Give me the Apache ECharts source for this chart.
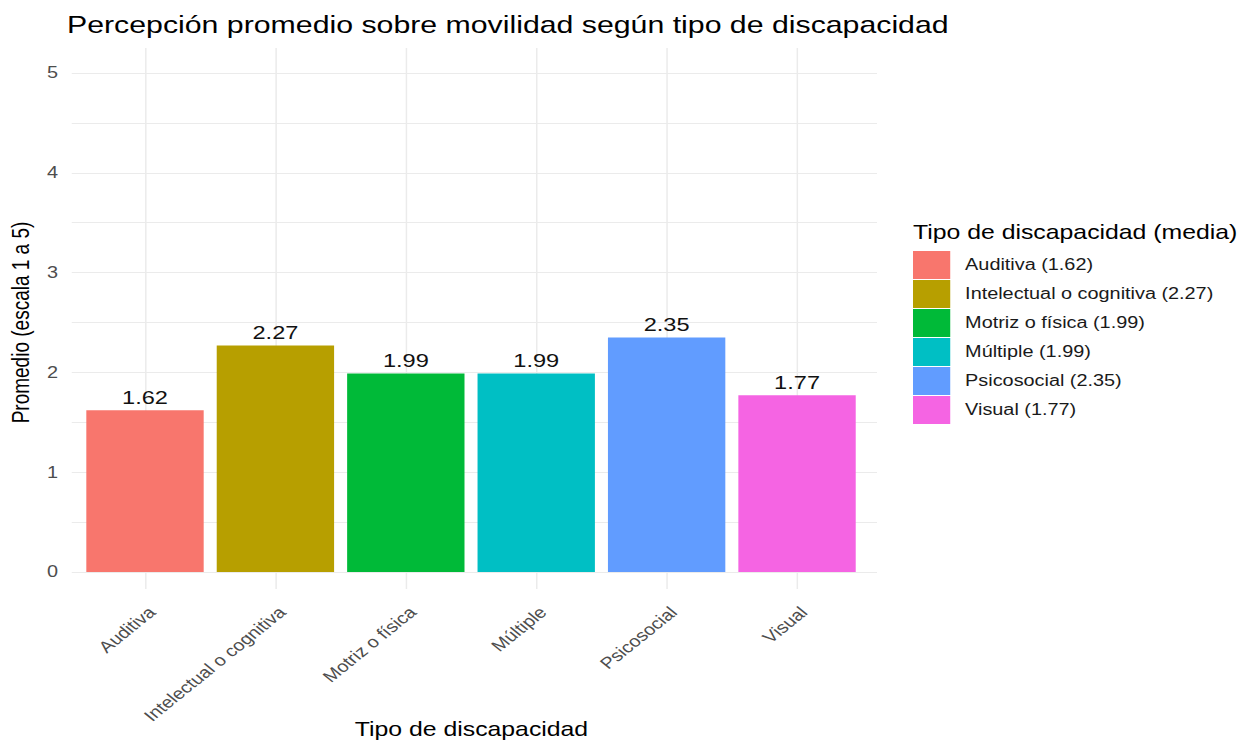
<!DOCTYPE html>
<html>
<head>
<meta charset="utf-8">
<script src="https://cdn.jsdelivr.net/npm/echarts@6/dist/echarts.min.js"></script>
<style>
  html, body { margin: 0; padding: 0; background: #fff; overflow: hidden; }
  /* chart is laid out 1000px wide and widened to fill the 1241px window */
  #chart { width: 1000px; height: 744px; transform: scaleX(1.241); transform-origin: 0 0; }
</style>
</head>
<body>
<div id="chart"></div>
<script>
const categories = ['Auditiva', 'Intelectual o cognitiva', 'Motriz o física', 'Múltiple', 'Psicosocial', 'Visual'];
const means = [1.62, 2.27, 1.99, 1.99, 2.35, 1.77];
const barColors = ['#F8766D', '#B79F00', '#00BA38', '#00BFC4', '#619CFF', '#F564E3'];
const yTicks = [0, 1, 2, 3, 4, 5];

const FONT = '"Liberation Sans", Arial, sans-serif';
const GRID_COLOR = '#ebebeb';

const chart = echarts.init(document.getElementById('chart'), null, { renderer: 'svg' });

// one series per category so each bar gets its own legend entry
const series = categories.map((cat, k) => ({
  name: `${cat} (${means[k].toFixed(2)})`,
  type: 'bar',
  xAxisIndex: 2,
  yAxisIndex: 2,
  data: means.map((v, i) => (i === k ? v : '-')),
  barGap: '-100%',
  barCategoryGap: '10%',
  itemStyle: { color: barColors[k] },
  label: {
    show: true,
    position: 'top',
    distance: 3,
    fontFamily: FONT,
    fontSize: 19,
    color: '#111',
    formatter: p => Number(p.value).toFixed(2)
  }
}));

const option = {
  backgroundColor: '#fff',
  animation: false,
  title: [
    {
      text: 'Percepción promedio sobre movilidad según tipo de discapacidad',
      left: 54, top: 13, padding: 0,
      textStyle: { fontFamily: FONT, fontSize: 24.4, fontWeight: 'normal', color: '#000' }
    },
    {
      text: 'Tipo de discapacidad (media)',
      left: 735.7, top: 222, padding: 0,
      textStyle: { fontFamily: FONT, fontSize: 20, fontWeight: 'normal', color: '#000' }
    }
  ],
  legend: {
    orient: 'vertical',
    left: 735.7, top: 251, padding: 0,
    icon: 'rect',
    itemWidth: 30, itemHeight: 28, itemGap: 1,
    selectedMode: false,
    textStyle: { fontFamily: FONT, fontSize: 16, color: '#1a1a1a', padding: [0, 0, 0, 7] },
    data: series.map(s => s.name)
  },
  grid: [
    // panel with horizontal grid lines and y tick labels
    { left: 54, right: 293.3, top: 73, bottom: 172 },
    // panel with vertical grid lines through category centres
    { left: 117.2, right: 357.4, top: 48, bottom: 147 },
    // bars
    { left: 64.3, right: 305.2, top: 73, bottom: 172 }
  ],
  xAxis: [
    { gridIndex: 0, type: 'value', min: 0, max: 1, show: false },
    {
      gridIndex: 1, type: 'category', data: categories, boundaryGap: false,
      axisLine: { show: false }, axisTick: { show: false },
      axisLabel: { show: false, interval: 0 },
      splitLine: { show: true, interval: 0, lineStyle: { color: GRID_COLOR, width: 1.2 } },
      name: 'Tipo de discapacidad', nameLocation: 'middle', nameGap: 130,
      nameTextStyle: { fontFamily: FONT, fontSize: 20, color: '#000' }
    },
    {
      gridIndex: 2, type: 'category', data: categories,
      axisLine: { show: false }, axisTick: { show: false }, splitLine: { show: false },
      axisLabel: {
        interval: 0, rotate: 45, margin: 32, verticalAlign: 'top',
        fontFamily: FONT, fontSize: 16, color: '#4d4d4d'
      }
    }
  ],
  yAxis: [
    {
      gridIndex: 0, type: 'value',
      min: yTicks[0], max: yTicks[yTicks.length - 1], interval: yTicks[1] - yTicks[0],
      axisLine: { show: false }, axisTick: { show: false },
      axisLabel: { margin: 11, fontFamily: FONT, fontSize: 16, color: '#4d4d4d' },
      splitLine: { show: true, lineStyle: { color: GRID_COLOR, width: 1.2 } },
      minorTick: { show: false, splitNumber: 2 },
      minorSplitLine: { show: true, lineStyle: { color: GRID_COLOR, width: 0.9 } },
      name: 'Promedio (escala 1 a 5)', nameLocation: 'middle', nameGap: 24, nameRotate: 90,
      nameTextStyle: { fontFamily: FONT, fontSize: 19, color: '#000' }
    },
    { gridIndex: 1, type: 'value', min: 0, max: 1, show: false },
    { gridIndex: 2, type: 'value', min: yTicks[0], max: yTicks[yTicks.length - 1], show: false }
  ],
  series
};

chart.setOption(option);
</script>
</body>
</html>
